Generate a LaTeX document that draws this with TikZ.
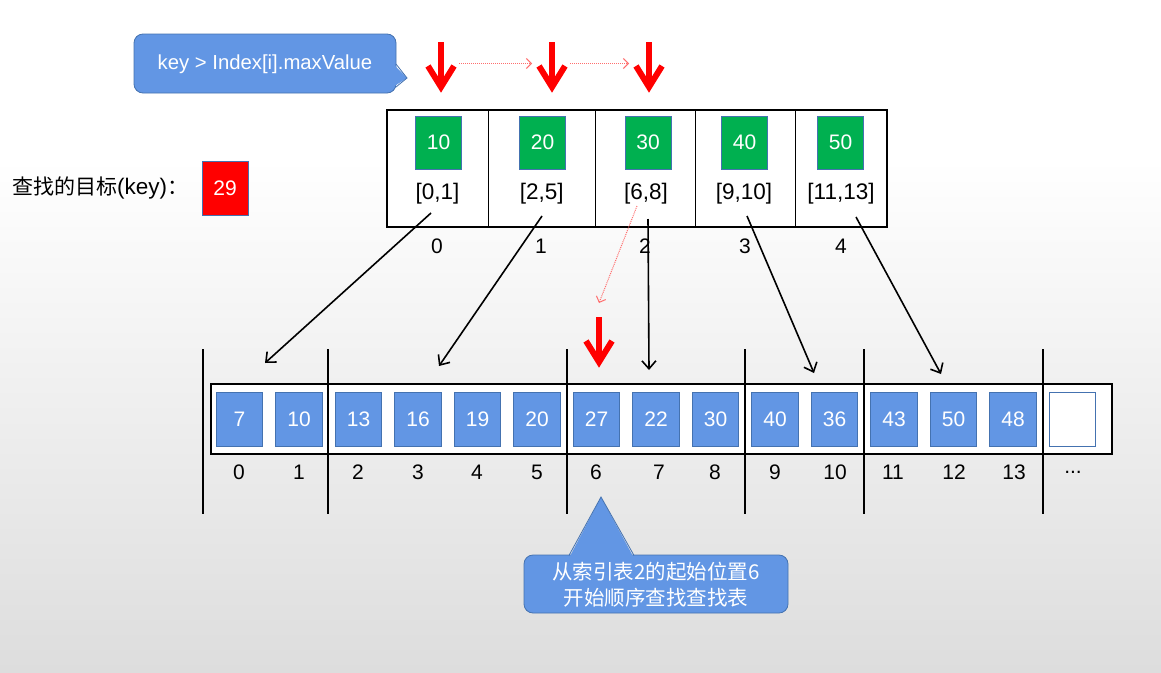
\documentclass[tikz,border=0pt]{standalone}
\usepackage{fontspec}
\setmainfont{Liberation Sans}
\newfontfamily\cjkfont{Noto Sans CJK SC}
\usetikzlibrary{arrows.meta}
\definecolor{bblue}{RGB}{98,150,228}
\definecolor{bborder}{RGB}{68,114,176}
\definecolor{ggreen}{RGB}{0,176,80}
\definecolor{kred}{RGB}{255,0,0}
\definecolor{dred}{RGB}{255,110,110}
\definecolor{bgbot}{RGB}{221,221,221}
\tikzset{
  numtxt/.style={font=\fontsize{21}{25}\selectfont, inner sep=0},
  rngtxt/.style={font=\fontsize{22.5}{26}\selectfont, inner sep=0},
  gbox/.style={draw=bborder, line width=0.8, fill=ggreen, minimum width=46, minimum height=53, inner sep=0, text=white, font=\fontsize{21}{25}\selectfont},
  bbox/.style={draw=bborder, line width=0.8, fill=bblue, minimum width=46.5, minimum height=54, inner sep=0, text=white, font=\fontsize{21}{25}\selectfont},
  frame/.style={draw=black, line width=1.1, fill=white, inner sep=0},
  sepline/.style={draw=black, line width=2.2},
  conn/.style={draw=black, line width=1.6, -{Straight Barb[length=8,width=14]}},
  dotconn/.style={draw=dred, line width=1, densely dotted, -{Straight Barb[length=5,width=10]}},
  callout/.style={fill=bblue, draw=bborder, line width=0.8},
  redarr/.pic={
    \draw[kred, line width=6] (0,0) -- (0,44);
    \draw[kred, line width=6, line join=miter, miter limit=10] (-13,24) -- (0,45) -- (13,24);
  }
}
\begin{document}
\begin{tikzpicture}[x=1pt,y=-1pt]
\useasboundingbox (0,0) rectangle (1161,672);
\fill[white] (0,0) rectangle (1161,160);
\shade[top color=white, bottom color=bgbot] (0,159) rectangle (1161,672);

% top callout
\filldraw[callout, rounded corners=9] (134,34) rectangle (396,93);
\fill[bblue] (393,64) -- (407,78) -- (393,87) -- cycle;
\draw[bborder, line width=0.8] (396,64) -- (407,78) -- (396,87);
\node[font=\fontsize{20.3}{24}\selectfont, text=white] (ctop) at (265,64) {key > Index[i].maxValue};

% red arrows on top
\pic at (441,42) {redarr};
\pic at (552,42) {redarr};
\pic at (649,42) {redarr};
\coordinate (d0s) at (459,63.5); \coordinate (d0e) at (532,63.5);
\coordinate (d1s) at (570,63.5); \coordinate (d1e) at (629,63.5);
\draw[dotconn] (d0s) -- (d0e);
\draw[dotconn] (d1s) -- (d1e);

% key label
\node[anchor=west, inner sep=0] (klab) at (12,188) {{\cjkfont\fontsize{21}{25}\selectfont 查找的目标}{\fontsize{22.5}{26}\selectfont(key)}{\cjkfont\fontsize{21}{25}\selectfont ：}};
\node[draw=bborder, line width=0.8, fill=kred, minimum width=46, minimum height=54, inner sep=0, text=white, font=\fontsize{21}{25}\selectfont] (key) at (225,188) {29};

% index table
\node[frame, minimum width=500, minimum height=117] (itab) at (637,168.5) {};
\foreach \x in {488.7,595.7,695.3,795.7} \draw[line width=1.1] (\x,110) -- (\x,227);
\node[gbox] (g0) at (438.5,142.5) {10};
\node[gbox] (g1) at (542.5,142.5) {20};
\node[gbox] (g2) at (648,142.5) {30};
\node[gbox] (g3) at (744.5,142.5) {40};
\node[gbox] (g4) at (840.5,142.5) {50};
\node[rngtxt] (r0) at (437.5,194) {[0,1]};
\node[rngtxt] (r1) at (541.7,194) {[2,5]};
\node[rngtxt] (r2) at (646,194) {[6,8]};
\node[rngtxt] (r3) at (744,194) {[9,10]};
\node[rngtxt] (r4) at (841,194) {[11,13]};
\node[numtxt] (i0) at (437,246) {0};
\node[numtxt] (i1) at (541,246) {1};
\node[numtxt] (i2) at (645,246) {2};
\node[numtxt] (i3) at (745,246) {3};
\node[numtxt] (i4) at (841,246) {4};

% main array
\node[frame, minimum width=901, minimum height=70] (atab) at (661.5,419) {};
\foreach \v [count=\i from 0] in {7,10,13,16,19,20,27,22,30,40,36,43,50,48} {
  \node[bbox] (a\i) at ({239.5+59.5*\i},419) {\v};
}
\node[bbox, fill=white] (a14) at (1072.5,419) {};
\foreach \x/\t [count=\i from 0] in {239/0,299/1,358/2,418/3,477/4,537/5,596/6,659/7,715/8,775/9,835/10,893/11,954/12,1014/13} {
  \node[numtxt] (n\i) at (\x,472) {\t};
}
\node[numtxt] (ndots) at (1073,472) {...};
\foreach \x in {203,328,567,745,864,1043} \draw[sepline] (\x,349) -- (\x,514);

% connectors from index table to array
\coordinate (s0) at (431,213); \coordinate (t0) at (265,363);
\coordinate (s1) at (542,216); \coordinate (t1) at (439,366);
\coordinate (s2) at (648,219); \coordinate (t2) at (649,370);
\coordinate (s3) at (747,216); \coordinate (t3) at (814,373);
\coordinate (s4) at (856,217); \coordinate (t4) at (941,374);
\foreach \k in {0,...,4} \draw[conn] (s\k) -- (t\k);
\coordinate (ds) at (637,206); \coordinate (de) at (599,303);
\draw[dotconn] (ds) -- (de);
\pic at (599,317) {redarr};

% bottom callout
\filldraw[callout, rounded corners=9] (524,555) rectangle (788,613);
\fill[bblue] (569,558) -- (601,497) -- (634,558) -- cycle;
\draw[bborder, line width=0.8] (569,555.4) -- (601,497) -- (634,555.4);
\node[text=white, align=center, font=\cjkfont\fontsize{20.5}{26}\selectfont, inner sep=0] (cbot) at (656,585) {从索引表2的起始位置6\\开始顺序查找查找表};
\end{tikzpicture}
\end{document}
